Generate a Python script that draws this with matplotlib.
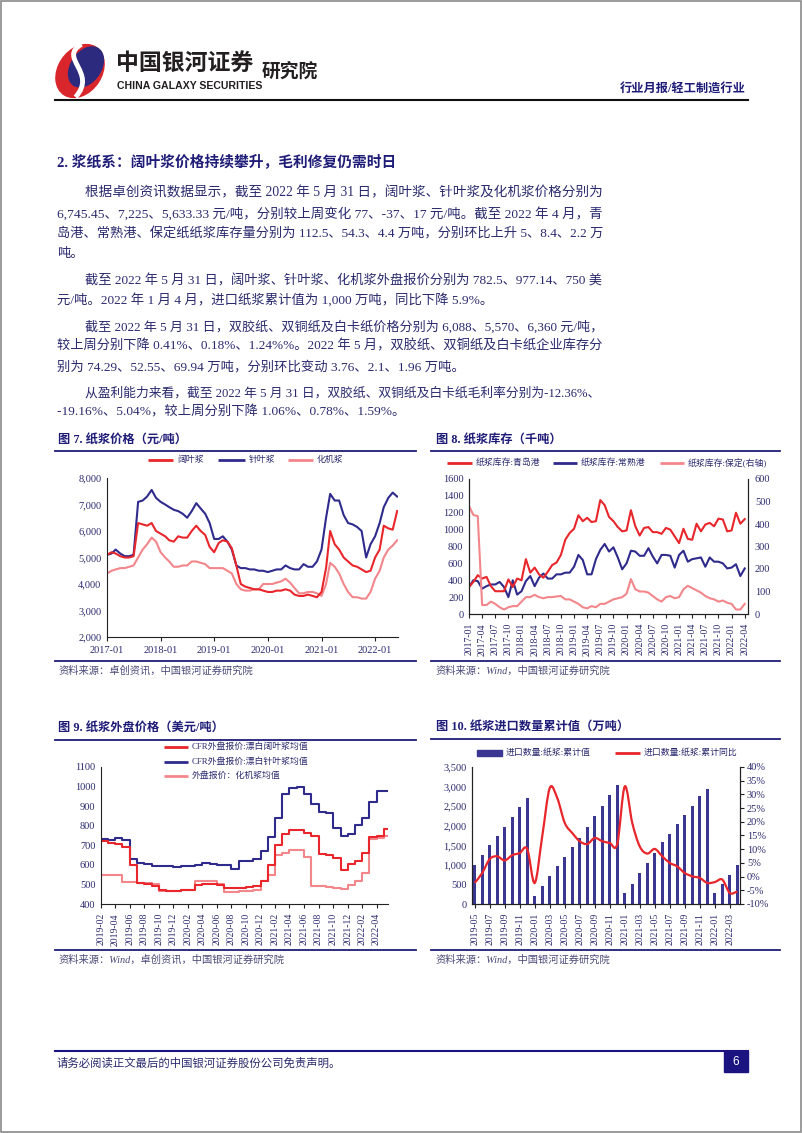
#################### plot.py ####################
# 行业月报 p.6 浆纸系 (纸浆价格/库存/外盘/进口) の再現
#################################################

import numpy as np
import pandas as pd
import matplotlib
matplotlib.use("Agg")
import matplotlib.pyplot as plt
from matplotlib.lines import Line2D
from matplotlib.patches import Rectangle, Ellipse, PathPatch
from matplotlib.path import Path
from matplotlib.ticker import FuncFormatter

# ---------------- データ ----------------
# 图7 纸浆价格 (元/吨) 2017-01 .. 2022-05 月次 + 2022-05-31
months7 = list(pd.date_range("2017-01-01", "2022-05-01", freq="MS").strftime("%Y-%m-%d")) + ["2022-05-31"]
pulp_hard = [5100, 5200, 5150, 5050, 5000, 5000, 5050, 6300, 6250, 6200, 6300, 6000,
             5900, 5800, 5650, 5600, 5800, 5750, 5750, 6000, 6200, 6000, 5850, 5400,
             5200, 5550, 5650, 5600, 5350, 4700, 4000, 3900, 3850, 3800, 3800, 3750,
             3700, 3700, 3750, 3750, 3800, 3750, 3600, 3550, 3550, 3600, 3550, 3500,
             3700, 4600, 6000, 5500, 5300, 5000, 4850, 4700, 4650, 4550, 4450, 4500,
             5000, 5300, 6200, 6100, 6050, 6750]
pulp_soft = [5100, 5150, 5300, 5150, 5050, 5050, 5100, 7100, 7150, 7300, 7550, 7250,
             7100, 7000, 6900, 6800, 6750, 6650, 6500, 6750, 7050, 6850, 6650, 6300,
             5700, 5700, 5800, 5600, 5300, 4700, 4600, 4600, 4550, 4550, 4500, 4500,
             4450, 4500, 4550, 4550, 4700, 4600, 4550, 4550, 4750, 4650, 4650, 4850,
             5300, 6500, 7400, 7150, 7150, 6600, 6300, 6250, 6150, 6000, 5000, 5500,
             5800, 6300, 6900, 7250, 7450, 7300]
pulp_mech = [4400, 4500, 4550, 4600, 4600, 4650, 4700, 5000, 5300, 5500, 5750, 5600,
             5200, 5000, 4850, 4650, 4650, 4700, 4700, 4850, 4850, 4800, 4750, 4600,
             4600, 4600, 4600, 4500, 4400, 4000, 3800, 3750, 3750, 3800, 3800, 4000,
             4000, 4000, 4050, 4100, 4200, 4050, 3850, 3650, 3650, 3700, 3700, 3650,
             3550, 4000, 4800, 4650, 4400, 4000, 3700, 3500, 3500, 3450, 3450, 3700,
             4200, 4500, 5000, 5300, 5450, 5650]
years7 = ["2017-01", "2018-01", "2019-01", "2020-01", "2021-01", "2022-01"]

# 图8 纸浆库存 (千吨) 2017-01 .. 2022-04
months8 = list(pd.date_range("2017-01-01", "2022-04-01", freq="MS").strftime("%Y-%m"))
inv_qingdao = [320, 380, 460, 420, 440, 330, 270, 270, 270, 410, 320, 420,
               400, 650, 490, 550, 470, 430, 500, 580, 610, 700, 880, 960,
               1010, 1170, 1100, 1140, 1090, 1100, 1350, 1290, 1150, 1100, 1030, 980,
               990, 1230, 1040, 930, 1020, 1030, 970, 970, 950, 1020, 1000, 920,
               840, 1010, 890, 880, 1070, 980, 1060, 1080, 1040, 1130, 1120, 980,
               990, 1200, 1070, 1125]
inv_changshu = [320, 400, 390, 300, 330, 350, 350, 380, 320, 200, 400, 230,
                270, 390, 450, 330, 430, 480, 420, 420, 470, 470, 490, 490,
                560, 700, 640, 470, 470, 650, 760, 830, 740, 790, 670, 530,
                600, 750, 740, 690, 690, 780, 680, 600, 700, 700, 690, 550,
                700, 750, 620, 650, 660, 670, 560, 670, 620, 620, 600, 540,
                550, 590, 450, 540]
inv_baoding = [480, 440, 435, 40, 40, 55, 45, 30, 20, 30, 35, 35,
               55, 75, 75, 85, 75, 70, 75, 75, 78, 80, 65, 65,
               55, 45, 30, 25, 35, 30, 45, 45, 55, 65, 70, 75,
               90, 155, 110, 100, 100, 95, 80, 65, 55, 75, 80, 70,
               75, 110, 125, 115, 105, 95, 80, 70, 65, 55, 60, 50,
               45, 20, 20, 45]

# 图9 纸浆外盘价格 (美元/吨) 2019-02 .. 2022-05 + 末尾
months9 = list(pd.date_range("2019-02-01", "2022-05-01", freq="MS").strftime("%Y-%m-%d")) + ["2022-05-17"]
cfr_hard = [720, 712, 705, 690, 600, 505, 500, 490, 470, 465, 468, 470, 470, 495,
            500, 500, 495, 482, 480, 480, 488, 492, 520, 600, 700, 760, 778, 778,
            765, 750, 655, 648, 635, 575, 605, 618, 660, 740, 745, 782, 782]
cfr_soft = [730, 725, 735, 725, 630, 610, 605, 595, 592, 592, 590, 595, 595, 600,
            608, 605, 600, 600, 580, 620, 622, 628, 670, 740, 840, 960, 995, 1000,
            960, 910, 870, 865, 790, 750, 760, 805, 840, 920, 975, 975, 975]
cfr_mech = [550, 550, 548, 510, 510, 508, 505, 500, 465, 465, 468, 470, 470, 515,
            520, 520, 500, 462, 462, 465, 465, 470, 520, 550, 650, 660, 675, 675,
            640, 490, 490, 485, 480, 478, 495, 520, 560, 730, 735, 750, 750]

# 图10 纸浆进口数量累计值 (万吨) / 累计同比 (%) 2019-05 .. 2022-04
months10 = list(pd.date_range("2019-05-01", "2022-04-01", freq="MS").strftime("%Y-%m"))
imp_cum = [1005, 1245, 1500, 1745, 1960, 2225, 2480, 2700,
           210, 460, 725, 980, 1210, 1450, 1695, 1970, 2240, 2500, 2795, 3040,
           280, 520, 790, 1055, 1310, 1575, 1790, 2045, 2275, 2495, 2750, 2950,
           280, 520, 740, 995]
imp_yoy = [-2.3, 1.3, 6.4, 7.4, 5.9, 7.8, 8.6, 10.1,
           -2.3, 14.7, 32.3, 28.7, 19.6, 15.9, 12.9, 11.9, 14.1, 12.9, 12.3, 11.9,
           32.9, 19.6, 11.0, 8.4, 10.1, 7.4, 5.0, 3.7, 1.3, 0.1, -0.5, -2.3,
           -2.0, -1.1, -6.0, -5.4]

# 本文
body_lines = [
    (85, 193, "根据卓创资讯数据显示，截至 2022 年 5 月 31 日，阔叶浆、针叶浆及化机浆价格分别为", True),
    (57, 214, "6,745.45、7,225、5,633.33 元/吨，分别较上周变化 77、-37、17 元/吨。截至 2022 年 4 月，青", True),
    (57, 234, "岛港、常熟港、保定纸纸浆库存量分别为 112.5、54.3、4.4 万吨，分别环比上升 5、8.4、2.2 万", True),
    (57, 254, "吨。", False),
    (85, 281, "截至 2022 年 5 月 31 日，阔叶浆、针叶浆、化机浆外盘报价分别为 782.5、977.14、750 美", True),
    (57, 300, "元/吨。2022 年 1 月 4 月，进口纸浆累计值为 1,000 万吨，同比下降 5.9%。", False),
    (85, 327, "截至 2022 年 5 月 31 日，双胶纸、双铜纸及白卡纸价格分别为 6,088、5,570、6,360 元/吨，", True),
    (57, 346, "较上周分别下降 0.41%、0.18%、1.24%%。2022 年 5 月，双胶纸、双铜纸及白卡纸企业库存分", True),
    (57, 367, "别为 74.29、52.55、69.94 万吨，分别环比变动 3.76、2.1、1.96 万吨。", False),
    (85, 393, "从盈利能力来看，截至 2022 年 5 月 31 日，双胶纸、双铜纸及白卡纸毛利率分别为-12.36%、", True),
    (57, 412, "-19.16%、5.04%，较上周分别下降 1.06%、0.78%、1.59%。", False),
]

# ---------------- 書式 ----------------
W, H = 802, 1133
CJK = "Noto Sans CJK SC"
plt.rcParams["font.family"] = ["Liberation Serif", CJK]
plt.rcParams["axes.unicode_minus"] = False

NAVY = "#1f1c78"     # 見出し
TXT = "#2a2a6e"      # 本文・目盛
SRC = "#4a4a78"      # 資料来源
RED = "#e8262b"
BLUE = "#2f2b8c"
PINK = "#f2868b"
BAR = "#3b3692"
AXC = "#222222"

fig = plt.figure(figsize=(W / 100, H / 100), dpi=100)


def fx(x):
    return x / W


def fy(y):
    return 1 - y / H


def put(x, y, s, size=9.6, color=TXT, **kw):
    kw.setdefault("va", "center")
    return fig.text(fx(x), fy(y), s, fontsize=size, color=color, **kw)


def hline(x0, x1, y, color=NAVY, lw=1.3):
    fig.add_artist(Line2D([fx(x0), fx(x1)], [fy(y), fy(y)], color=color, lw=lw))


def add_ax(x0, y0, x1, y1):
    return fig.add_axes([fx(x0), fy(y1), (x1 - x0) / W, (y1 - y0) / H])


def leg_line(x0, x1, y, color, label, lw=2.0):
    fig.add_artist(Line2D([fx(x0), fx(x1)], [fy(y), fy(y)], color=color, lw=lw,
                          solid_capstyle="butt"))
    put(x1 + 4, y, label, size=6.4, color=TXT)


def style_ax(ax, right=False):
    ax.spines["top"].set_visible(False)
    ax.spines["right"].set_visible(right)
    for s in ax.spines.values():
        s.set_linewidth(0.8)
        s.set_color(AXC)
    ax.tick_params(labelsize=7.5, labelcolor=TXT, color=AXC, length=3, width=0.8,
                   direction="out")
    ax.set_facecolor("none")


def smooth_path(x, y):
    # Catmull-Rom を3次ベジェに変換 (Excel の平滑線風)
    x = np.asarray(x, float)
    y = np.asarray(y, float)
    verts = [(x[0], y[0])]
    codes = [Path.MOVETO]
    n = len(x)
    for i in range(n - 1):
        xa, ya = (x[i - 1], y[i - 1]) if i > 0 else (x[i], y[i])
        xd, yd = (x[i + 2], y[i + 2]) if i + 2 < n else (x[i + 1], y[i + 1])
        c1 = (x[i] + (x[i + 1] - xa) / 6, y[i] + (y[i + 1] - ya) / 6)
        c2 = (x[i + 1] - (xd - x[i]) / 6, y[i + 1] - (yd - y[i]) / 6)
        verts += [c1, c2, (x[i + 1], y[i + 1])]
        codes += [Path.CURVE4] * 3
    return Path(verts, codes)


# ---------------- ページ枠・ヘッダー ----------------
fig.add_artist(Rectangle((0.001, 0.001), 0.998, 0.998, transform=fig.transFigure,
                         fill=False, ec="#8a8a8a", lw=1.2))

lg = add_ax(50, 42, 110, 100)
lg.set_xlim(-1, 1)
lg.set_ylim(-1, 1)
lg.axis("off")
lg.add_patch(Ellipse((0, 0), 1.45, 1.95, angle=-32, color="#d9262c"))
lg.add_patch(Ellipse((0.2, 0.14), 1.0, 1.5, angle=-32, color="#2b2a7e"))
lg.add_patch(PathPatch(Path([(0.05, 0.92), (-0.75, 0.45), (0.6, -0.05), (-0.15, -0.9)],
                            [Path.MOVETO, Path.CURVE4, Path.CURVE4, Path.CURVE4]),
                       fill=False, ec="white", lw=3.5))

put(116, 63, "中国银河证券", size=16.5, color="#231f20", family=CJK, weight="bold")
put(262, 71, "研究院", size=13.5, color="#231f20", family=CJK, weight="bold")
put(117, 86, "CHINA GALAXY SECURITIES", size=7.6, color="#231f20",
    family=["Liberation Sans Narrow", "Liberation Sans"], weight="bold")
put(746, 89, "行业月报/轻工制造行业", size=8.8, color=NAVY, ha="right", weight="bold")
hline(55, 748, 100, color="#111111", lw=1.5)

# ---------------- 本文 ----------------
put(57, 163, "2. 浆纸系：阔叶浆价格持续攀升，毛利修复仍需时日", size=10.6, color=NAVY,
    weight="bold")

renderer = fig.canvas.get_renderer()
for x, y, s, full in body_lines:
    t = put(x, y, s, size=9.6)
    if full:
        w = t.get_window_extent(renderer).width
        k = min(max((603 - x) / w, 0.9), 1.1)
        t.set_fontsize(9.6 * k)

# ---------------- 图7 纸浆价格 ----------------
put(58, 440, "图 7. 纸浆价格（元/吨）", size=8.8, color=NAVY, weight="bold")
hline(55, 416, 451)
leg_line(148, 173, 460, RED, "阔叶浆")
leg_line(218, 245, 460, BLUE, "针叶浆")
leg_line(288, 313, 460, PINK, "化机浆")

ax = add_ax(107, 478, 398, 637)
d7 = pd.to_datetime(months7)
ax.plot(d7, pulp_mech, color=PINK, lw=1.5)
ax.plot(d7, pulp_soft, color=BLUE, lw=1.5)
ax.plot(d7, pulp_hard, color=RED, lw=1.5)
ax.set_ylim(2000, 8000)
ax.set_yticks(range(2000, 8001, 1000))
ax.yaxis.set_major_formatter(FuncFormatter(lambda v, p: f"{v:,.0f}"))
ax.set_xlim(pd.Timestamp("2017-01-01"), pd.Timestamp("2022-06-06"))
ax.set_xticks(pd.to_datetime(years7))
ax.set_xticklabels(years7)
style_ax(ax)
ax.tick_params(axis="y", length=0, pad=4)

hline(55, 416, 661)
put(58, 671, "资料来源：卓创资讯，中国银河证券研究院", size=7.4, color=SRC, style="italic")

# ---------------- 图8 纸浆库存 ----------------
put(436, 440, "图 8. 纸浆库存（千吨）", size=8.8, color=NAVY, weight="bold")
hline(431, 780, 451)
leg_line(447, 472, 463, RED, "纸浆库存:青岛港")
leg_line(553, 577, 463, BLUE, "纸浆库存:常熟港")
leg_line(660, 684, 463, PINK, "纸浆库存:保定(右轴)")

ax = add_ax(469, 479, 748, 614)
x8 = np.arange(len(months8))
ax.plot(x8, inv_changshu, color=BLUE, lw=1.5)
ax.plot(x8, inv_qingdao, color=RED, lw=1.5)
ax.set_ylim(0, 1600)
ax.set_yticks(range(0, 1601, 200))
ax.set_xlim(0, len(months8) - 0.25)
ax.set_xticks(x8[::3])
ax.set_xticklabels(months8[::3], rotation=90)
style_ax(ax, right=True)
ax.tick_params(axis="y", length=0, pad=4)
ax.tick_params(axis="x", labelsize=7)
ax2 = ax.twinx()
ax2.plot(x8, inv_baoding, color=PINK, lw=1.5)
ax2.set_ylim(0, 600)
ax2.set_yticks(range(0, 601, 100))
style_ax(ax2, right=True)
ax2.tick_params(axis="y", length=0, pad=5)

hline(431, 780, 661)
put(436, 671, "资料来源：Wind，中国银河证券研究院", size=7.4, color=SRC, style="italic")

# ---------------- 图9 纸浆外盘价格 ----------------
put(58, 728, "图 9. 纸浆外盘价格（美元/吨）", size=8.8, color=NAVY, weight="bold")
hline(55, 416, 740)
leg_line(164, 188, 747, RED, "CFR外盘报价:漂白阔叶浆均值")
leg_line(164, 188, 762, BLUE, "CFR外盘报价:漂白针叶浆均值")
leg_line(164, 188, 776, PINK, "外盘报价：化机浆均值")

ax = add_ax(101, 767, 388, 904)
d9 = pd.to_datetime(months9)
ax.plot(d9, cfr_mech, color=PINK, lw=1.5, drawstyle="steps-post")
ax.plot(d9, cfr_soft, color=BLUE, lw=1.5, drawstyle="steps-post")
ax.plot(d9, cfr_hard, color=RED, lw=1.5, drawstyle="steps-post")
ax.set_ylim(400, 1100)
ax.set_yticks(range(400, 1101, 100))
ax.set_xlim(pd.Timestamp("2019-02-01"), pd.Timestamp("2022-05-19"))
t9 = pd.date_range("2019-02-01", "2022-04-01", freq="2MS")
ax.set_xticks(t9)
ax.set_xticklabels(t9.strftime("%Y-%m"), rotation=90)
style_ax(ax)
ax.tick_params(axis="y", length=0, pad=4)
ax.tick_params(axis="x", labelsize=7)

hline(55, 416, 950)
put(58, 960, "资料来源：Wind，卓创资讯，中国银河证券研究院", size=7.4, color=SRC, style="italic")

# ---------------- 图10 纸浆进口数量累计值 ----------------
put(436, 728, "图 10. 纸浆进口数量累计值（万吨）", size=8.8, color=NAVY, weight="bold")
hline(431, 780, 739)
fig.add_artist(Rectangle((fx(477), fy(756)), (502 - 477) / W, 6 / H,
                         transform=fig.transFigure, color=BAR))
put(506, 753, "进口数量:纸浆:累计值", size=6.4, color=TXT)
leg_line(615, 640, 753, RED, "进口数量:纸浆:累计同比")

ax = add_ax(472, 767, 740, 904)
x10 = np.arange(len(months10))
ax.bar(x10, imp_cum, width=0.42, color=BAR)
ax.set_ylim(0, 3500)
ax.set_yticks(range(0, 3501, 500))
ax.yaxis.set_major_formatter(FuncFormatter(lambda v, p: f"{v:,.0f}"))
ax.set_xlim(-0.36, len(months10) - 0.64)
ax.set_xticks(x10[::2])
ax.set_xticklabels(months10[::2], rotation=90)
style_ax(ax, right=True)
ax.tick_params(axis="y", length=0, pad=4)
ax.tick_params(axis="x", labelsize=7)
ax2 = ax.twinx()
ax2.add_patch(PathPatch(smooth_path(x10, imp_yoy), fill=False, ec=RED, lw=1.6))
ax2.set_ylim(-10, 40)
ax2.set_yticks(range(-10, 41, 5))
ax2.yaxis.set_major_formatter(FuncFormatter(lambda v, p: f"{v:.0f}%"))
style_ax(ax2, right=True)
ax2.tick_params(axis="y", length=3, pad=2)

hline(431, 780, 950)
put(436, 960, "资料来源：Wind，中国银河证券研究院", size=7.4, color=SRC, style="italic")

# ---------------- フッター ----------------
hline(55, 748, 1051, color="#1a1380", lw=1.5)
put(57, 1063, "请务必阅读正文最后的中国银河证券股份公司免责声明。", size=8.2, color=TXT)
fig.add_artist(Rectangle((fx(724), fy(1072)), 24 / W, 21 / H, transform=fig.transFigure,
                         color="#1a1380"))
put(736, 1062, "6", size=8.5, color="white", ha="center", family="Liberation Sans")

fig.savefig("out.png", dpi=100)
